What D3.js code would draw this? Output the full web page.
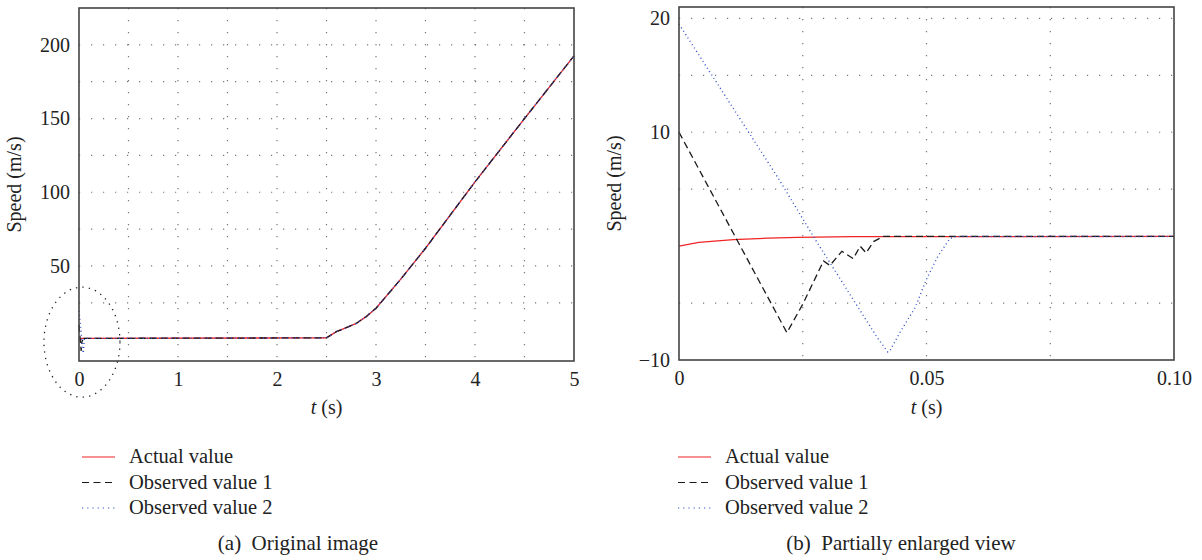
<!DOCTYPE html>
<html>
<head>
<meta charset="utf-8">
<title>Speed observer</title>
<script src="https://cdn.jsdelivr.net/npm/d3@7"></script>
<style>
body { margin: 0; background: #fff; }
.chart text { font-family: 'Liberation Serif', 'DejaVu Serif', serif !important; }
</style>
</head>
<body>
<svg class="chart" width="1202" height="560"></svg>
<script>
// early transient, t (s) / speed (m/s)
var actualEarly = [[0, 0.0], [0.004, 0.33], [0.011, 0.57], [0.018, 0.7], [0.024, 0.77], [0.035, 0.83], [0.1, 0.85]];
var obs1Early = [[0, 10], [0.0218, -7.6], [0.025, -5.1], [0.0292, -1.3], [0.0305, -1.7], [0.0329, -0.45],
                 [0.0352, -1.1], [0.0366, 0.0], [0.0378, -0.6], [0.0393, 0.4], [0.0413, 0.85], [0.1, 0.85]];
var obs2Early = [[0, 19.5], [0.02, 6.0], [0.0275, 0.6], [0.04, -8.0], [0.0422, -9.3], [0.0426, -9.2],
                 [0.0446, -7.6], [0.0477, -5.4], [0.05, -2.9], [0.0523, -0.9], [0.0547, 0.66], [0.056, 0.85], [0.1, 0.85]];
// rest of the run, all three curves overlap
var ramp = [[2.5, 1.2], [2.6, 5.4], [2.7, 8.1], [2.8, 11], [2.9, 15.6], [3.0, 21.3], [3.25, 41],
            [3.5, 62], [4.0, 107], [4.5, 150], [5.0, 192.5]];

var seriesNames = ["Actual value", "Observed value 1", "Observed value 2"];

// tick labels and grid values
var xTicksA = [0, 1, 2, 3, 4, 5];
var yTicksA = [50, 100, 150, 200];
var xGridA = [0.5, 1, 1.5, 2, 2.5, 3, 3.5, 4, 4.5];
var yGridA = [25, 50, 75, 100, 125, 150, 175, 200];
var xTicksB = [0, 0.05, 0.1];
var yTicksB = [20, 10, -10];
var xGridB = [0.025, 0.05, 0.075];
var yGridB = [20, 15, 10, 5, -5];

var styles = [
	{color: "#f02424", dash: null, width: 1.3},
	{color: "#1a1a1a", dash: "7,4", width: 1.3},
	{color: "#3352c8", dash: "1,3", width: 1.4}
];

var svg = d3.select(".chart");

function panel(opt){
	var x = d3.scaleLinear().domain(opt.xDomain).range([opt.left, opt.right]);
	var y = d3.scaleLinear().domain(opt.yDomain).range([opt.bottom, opt.top]);
	var g = svg.append("g");

	//grid
	g.selectAll(".vg").data(opt.xGrid).enter().append("line")
		.attr("x1", function(d){ return x(d); }).attr("x2", function(d){ return x(d); })
		.attr("y1", opt.top).attr("y2", opt.bottom)
		.attr("stroke", "#777").attr("stroke-width", 1.2).attr("stroke-dasharray", "1.2,10.8");
	g.selectAll(".hg").data(opt.yGrid).enter().append("line")
		.attr("y1", function(d){ return y(d); }).attr("y2", function(d){ return y(d); })
		.attr("x1", opt.left).attr("x2", opt.right)
		.attr("stroke", "#777").attr("stroke-width", 1.2).attr("stroke-dasharray", "1.2,10.8");

	//lines
	var line = d3.line().x(function(d){ return x(d[0]); }).y(function(d){ return y(d[1]); });
	opt.data.forEach(function(s, i){
		g.append("path")
			.attr("d", line(s))
			.attr("fill", "none")
			.attr("stroke", styles[i].color)
			.attr("stroke-width", styles[i].width)
			.attr("stroke-dasharray", styles[i].dash);
	});

	//frame
	g.append("rect")
		.attr("x", opt.left).attr("y", opt.top)
		.attr("width", opt.right - opt.left).attr("height", opt.bottom - opt.top)
		.attr("fill", "none").attr("stroke", "#444").attr("stroke-width", 1.6);

	//axes
	var xAxis = d3.axisBottom(x).tickValues(opt.xTicks).tickSize(0).tickPadding(11).tickFormat(opt.xFormat);
	var gx = g.append("g").attr("transform", "translate(0," + opt.bottom + ")").call(xAxis)
		.attr("font-size", 20);
	gx.select(".domain").remove();
	gx.selectAll("text").attr("fill", "#222");

	var yAxis = d3.axisLeft(y).tickValues(opt.yTicks).tickSize(0).tickPadding(9);
	var gy = g.append("g").attr("transform", "translate(" + opt.left + ",0)").call(yAxis)
		.attr("font-size", 20);
	gy.select(".domain").remove();
	gy.selectAll("text").attr("fill", "#222");

	//labels
	var cx = (opt.left + opt.right) / 2;
	var xl = g.append("text").attr("x", cx).attr("y", 414).attr("text-anchor", "middle")
		.attr("font-size", 20).attr("fill", "#222");
	xl.append("tspan").attr("font-style", "italic").text("t");
	xl.append("tspan").text(" (s)");

	g.append("text")
		.attr("transform", "translate(" + (opt.left - 58) + "," + ((opt.top + opt.bottom) / 2) + ") rotate(-90)")
		.attr("text-anchor", "middle").attr("font-size", 20).attr("fill", "#222")
		.text("Speed (m/s)");

	//legend
	seriesNames.forEach(function(name, i){
		var ly = 457 + i * 25.5;
		g.append("line")
			.attr("x1", opt.legendX).attr("x2", opt.legendX + 33)
			.attr("y1", ly).attr("y2", ly)
			.attr("stroke", styles[i].color).attr("stroke-width", 1.2)
			.attr("stroke-dasharray", i === 1 ? "7,4.5" : (i === 2 ? "1.2,4" : null));
		g.append("text").attr("x", opt.legendX + 47).attr("y", ly + 6)
			.attr("font-size", 20.5).attr("fill", "#222").text(name);
	});

	//caption
	g.append("text").attr("x", opt.captionX).attr("y", 550).attr("text-anchor", "middle")
		.attr("font-size", 21).attr("fill", "#222")
		.attr("xml:space", "preserve").text(opt.caption);

	return {x: x, y: y, g: g};
}

var pa = panel({
	left: 79, right: 574, top: 8, bottom: 361,
	xDomain: [0, 5], yDomain: [-14.5, 225],
	xTicks: xTicksA, yTicks: yTicksA, xGrid: xGridA, yGrid: yGridA,
	xFormat: d3.format("d"),
	data: [actualEarly.concat(ramp), obs1Early.concat(ramp), obs2Early.concat(ramp)],
	legendX: 82, captionX: 298, caption: "(a)  Original image"
});

panel({
	left: 679, right: 1174, top: 7, bottom: 360,
	xDomain: [0, 0.1], yDomain: [-10, 21],
	xTicks: xTicksB, yTicks: yTicksB, xGrid: xGridB, yGrid: yGridB,
	xFormat: function(d){ return d === 0 ? "0" : d3.format(".2f")(d); },
	data: [actualEarly, obs1Early, obs2Early],
	legendX: 678, captionX: 901, caption: "(b)  Partially enlarged view"
});

// dotted ellipse marking the zoomed region
pa.g.append("ellipse")
	.attr("cx", pa.x(0.03)).attr("cy", pa.y(-1.7))
	.attr("rx", 38).attr("ry", 55)
	.attr("fill", "none").attr("stroke", "#222").attr("stroke-width", 1.3)
	.attr("stroke-dasharray", "1.3,5.2");
</script>
</body>
</html>
